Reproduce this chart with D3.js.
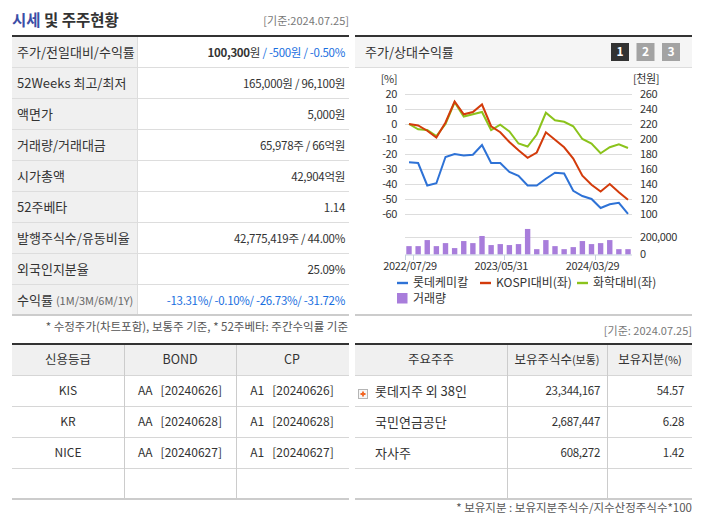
<!DOCTYPE html>
<html>
<head>
<meta charset="utf-8">
<script src="https://cdn.jsdelivr.net/npm/d3@7"></script>
<style>
body { margin: 0; background: #fff; }
svg { display: block; font-family: "Noto Sans CJK KR", "Noto Sans", sans-serif; }
</style>
</head>
<body>
<svg id="page" width="702" height="525"></svg>
<script>
// monthly points, 2022/07 .. 2024/07
var dates = ["2022/07/29","2022/08/31","2022/09/30","2022/10/31","2022/11/30","2022/12/29",
    "2023/01/31","2023/02/28","2023/03/31","2023/04/28","2023/05/31","2023/06/30","2023/07/31",
    "2023/08/31","2023/09/27","2023/10/31","2023/11/30","2023/12/28","2024/01/31","2024/02/29",
    "2024/03/29","2024/04/30","2024/05/31","2024/06/28","2024/07/25"];
var xLabels = ["2022/07/29","2023/05/31","2024/03/29"];

var price = [169,168,138,141,176,180,178,179,192,168,168,156,151,138,138,147,155,154,131,124,120,108,113,115,100.3];
var kospiRel = [0,-1,-4.5,-9,1,15,6.5,8,13,-1.5,-5.5,-12,-17.5,-22.5,-19,-5.5,-10.5,-15.5,-23,-34.5,-40.5,-45,-40,-45.5,-50.5];
var chemRel = [0,-3.5,-4,-8,0,14.5,5,6.5,8,-4,-0.5,-5,-13,-15,-7,7.5,2.5,1.5,-1.5,-10,-13,-19.5,-15.5,-13.5,-16];
var volume = [94000,94000,162000,94000,128000,72000,151000,128000,208000,106000,117000,106000,117000,
    287000,60000,162000,94000,60000,83000,151000,117000,128000,162000,60000,60000];

var pctTicks = [20,10,0,-10,-20,-30,-40,-50,-60];
var wonTicks = [260,240,220,200,180,160,140,120,100];
var volTicks = [200000,0];

var infoLabels = ["주가/전일대비/수익률","52Weeks 최고/최저","액면가","거래량/거래대금","시가총액",
    "52주베타","발행주식수/유동비율","외국인지분율","수익률"];
var infoNotes = ["","","","","","","","","(1M/3M/6M/1Y)"];
var infoValues = [
    [["100,300","strong"],["원",""],[" / -500원 / -0.50%","neg"]],
    [["165,000원 / 96,100원",""]],
    [["5,000원",""]],
    [["65,978주 / 66억원",""]],
    [["42,904억원",""]],
    [["1.14",""]],
    [["42,775,419주 / 44.00%",""]],
    [["25.09%",""]],
    [["-13.31%/ -0.10%/ -26.73%/ -31.72%","neg"]]
];

var creditHeader = ["신용등급","BOND","CP"];
var creditAgency = ["KIS","KR","NICE"];
var bondGrade = ["AA   [20240626]","AA   [20240628]","AA   [20240627]"];
var cpGrade = ["A1   [20240626]","A1   [20240628]","A1   [20240627]"];

var holderHeader = [["주요주주",""],["보유주식수","(보통)"],["보유지분","(%)"]];
var holderNames = ["롯데지주 외 38인","국민연금공단","자사주"];
var holderShares = ["23,344,167","2,687,447","608,272"];
var holderPct = ["54.57","6.28","1.42"];

var seriesNames = ["롯데케미칼","KOSPI대비(좌)","화학대비(좌)"];
var colors = { price: "#2e72d6", kospi: "#d33b0b", chem: "#8bc31c", vol: "#a87ddb" };

var svg = d3.select("#page");
var textCol = "#333";

// ---------- title ----------
var title = svg.append("text").attr("x", 12).attr("y", 26)
    .style("font-size", "15.5px").style("font-weight", "bold").attr("fill", textCol);
title.append("tspan").attr("fill", "#3b4ea6").text("시세");
title.append("tspan").text(" 및 주주현황");
svg.append("text").attr("x", 349).attr("y", 25).attr("text-anchor", "end")
    .style("font-size", "11px").attr("fill", "#777").text("[기준:2024.07.25]");

// ---------- left info table ----------
var rowH = 31, tTop = 37;
svg.append("rect").attr("x", 12).attr("y", tTop).attr("width", 125).attr("height", rowH * 9).attr("fill", "#f0f0f0");
svg.append("rect").attr("x", 12).attr("y", 35).attr("width", 337).attr("height", 2).attr("fill", "#333");
svg.selectAll(".infoLine").data(d3.range(1, 9)).join("line")
    .attr("x1", 12).attr("x2", 349)
    .attr("y1", function(d) { return tTop + d * rowH - 0.5; })
    .attr("y2", function(d) { return tTop + d * rowH - 0.5; })
    .attr("stroke", "#ddd");
svg.append("line").attr("x1", 137.5).attr("x2", 137.5).attr("y1", tTop).attr("y2", tTop + rowH * 9).attr("stroke", "#ddd");
svg.append("rect").attr("x", 12).attr("y", tTop + rowH * 9 - 2).attr("width", 337).attr("height", 2).attr("fill", "#ccc");

var labelText = svg.selectAll(".infoLabel").data(infoLabels).join("text")
    .attr("x", 17).attr("y", function(d, i) { return tTop + i * rowH + rowH / 2; })
    .attr("dy", "0.35em").style("font-size", "13px").attr("fill", textCol);
labelText.append("tspan").text(function(d) { return d; });
labelText.append("tspan").attr("dx", 3).style("font-size", "11px").attr("fill", "#666")
    .text(function(d, i) { return infoNotes[i]; });

var valText = svg.selectAll(".infoValue").data(infoValues).join("text")
    .attr("x", 345).attr("y", function(d, i) { return tTop + i * rowH + rowH / 2; })
    .attr("dy", "0.35em").attr("text-anchor", "end").style("font-size", "11.5px")
    .style("letter-spacing", "-0.3px").style("white-space", "pre");
valText.selectAll("tspan").data(function(d) { return d; }).join("tspan")
    .text(function(d) { return d[0]; })
    .attr("fill", function(d) { return d[1] === "neg" ? "#1a6fe0" : textCol; })
    .style("font-weight", function(d) { return d[1] === "strong" ? "bold" : "normal"; });

svg.append("text").attr("x", 348).attr("y", 327).attr("dy", "0.35em").attr("text-anchor", "end")
    .style("font-size", "11.5px").attr("fill", "#555")
    .text("* 수정주가(차트포함), 보통주 기준, * 52주베타: 주간수익률 기준");

// ---------- chart panel ----------
svg.append("rect").attr("x", 355).attr("y", 37).attr("width", 337).attr("height", 30).attr("fill", "#f5f5f5");
svg.append("rect").attr("x", 355).attr("y", 35).attr("width", 337).attr("height", 2).attr("fill", "#333");
svg.append("line").attr("x1", 355).attr("x2", 692).attr("y1", 67.5).attr("y2", 67.5).attr("stroke", "#ddd");
svg.append("text").attr("x", 365).attr("y", 52).attr("dy", "0.35em").style("font-size", "13px")
    .attr("fill", textCol).text("주가/상대수익률");
var tabs = svg.selectAll(".tab").data(["1","2","3"]).join("g")
    .attr("transform", function(d, i) { return "translate(" + (611 + i * 25.5) + ",43)"; });
tabs.append("rect").attr("width", 18).attr("height", 18)
    .attr("fill", function(d, i) { return i === 0 ? "#333" : "#a3a3a3"; });
tabs.append("text").attr("x", 9).attr("y", 9).attr("dy", "0.36em").attr("text-anchor", "middle")
    .style("font-size", "12px").style("font-weight", "bold").attr("fill", "#fff").text(function(d) { return d; });

var idx = d3.range(dates.length);
var x = d3.scalePoint().domain(idx).range([409, 628]);
var step = x.step();
var yL = d3.scaleLinear().domain([-60, 20]).range([214, 94]);
var yR = d3.scaleLinear().domain([100, 260]).range([214, 94]);
var yV = d3.scaleLinear().domain([0, 200000]).range([254.5, 236.7]);

function tickText(sel) {
    sel.style("font-size", "11px").style("letter-spacing", "-0.4px").attr("fill", textCol);
}

svg.selectAll(".grid").data(pctTicks).join("line")
    .attr("x1", 405).attr("x2", 632)
    .attr("y1", function(d) { return Math.round(yL(d)) + 0.5; })
    .attr("y2", function(d) { return Math.round(yL(d)) + 0.5; })
    .attr("stroke", "#ddd");
svg.selectAll(".pctLbl").data(pctTicks).join("text")
    .attr("x", 397).attr("y", function(d) { return yL(d); }).attr("dy", "0.35em")
    .attr("text-anchor", "end").call(tickText).text(function(d) { return d; });
svg.selectAll(".wonLbl").data(wonTicks).join("text")
    .attr("x", 640).attr("y", function(d) { return yR(d); }).attr("dy", "0.35em")
    .call(tickText).text(function(d) { return d; });
svg.append("text").attr("x", 397).attr("y", 79).attr("dy", "0.35em").attr("text-anchor", "end")
    .call(tickText).text("[%]");
svg.append("text").attr("x", 633).attr("y", 79).attr("dy", "0.35em")
    .call(tickText).text("[천원]");

// volume
svg.append("line").attr("x1", 405).attr("x2", 632).attr("y1", Math.round(yV(200000)) + 0.5).attr("y2", Math.round(yV(200000)) + 0.5)
    .attr("stroke", "#ddd");
svg.selectAll(".bar").data(volume).join("rect")
    .attr("x", function(d, i) { return x(i) - 2.7; }).attr("width", 5.4)
    .attr("y", function(d) { return yV(d); }).attr("height", function(d) { return yV(0) - yV(d); })
    .attr("fill", colors.vol);
svg.selectAll(".volLbl").data(volTicks).join("text")
    .attr("x", 640).attr("y", function(d) { return yV(d); }).attr("dy", "0.35em")
    .call(tickText).text(function(d) { return d3.format(",")(d); });
svg.append("line").attr("x1", 405).attr("x2", 632).attr("y1", 255).attr("y2", 255).attr("stroke", "#c4d0dc");
var tickIdx = xLabels.map(function(l) { return dates.indexOf(l); });
svg.selectAll(".xTick").data([-1].concat(tickIdx)).join("line")
    .attr("x1", function(d) { return d < 0 ? 405.5 : Math.round(x(d) + step / 2) - 0.5; })
    .attr("x2", function(d) { return d < 0 ? 405.5 : Math.round(x(d) + step / 2) - 0.5; })
    .attr("y1", 255).attr("y2", 260).attr("stroke", "#c4d0dc");
svg.selectAll(".xLbl").data(tickIdx).join("text")
    .attr("x", function(d) { return x(d) + 1; }).attr("y", 266).attr("dy", "0.35em")
    .attr("text-anchor", "middle").call(tickText)
    .text(function(d) { return dates[d]; });

// lines
var lineL = d3.line().x(function(d, i) { return x(i); }).y(function(d) { return yL(d); });
var lineR = d3.line().x(function(d, i) { return x(i); }).y(function(d) { return yR(d); });
svg.append("path").datum(chemRel).attr("d", lineL).attr("fill", "none").attr("stroke", colors.chem).attr("stroke-width", 2);
svg.append("path").datum(kospiRel).attr("d", lineL).attr("fill", "none").attr("stroke", colors.kospi).attr("stroke-width", 2);
svg.append("path").datum(price).attr("d", lineR).attr("fill", "none").attr("stroke", colors.price).attr("stroke-width", 2);

// legend
var legX = [397, 480, 577];
var legCol = [colors.price, colors.kospi, colors.chem];
var leg = svg.selectAll(".leg").data(seriesNames).join("g")
    .attr("transform", function(d, i) { return "translate(" + legX[i] + ",283)"; });
leg.append("rect").attr("x", 0).attr("y", -1.2).attr("width", 11).attr("height", 2.4)
    .attr("fill", function(d, i) { return legCol[i]; });
leg.append("text").attr("x", 16).attr("dy", "0.35em").style("font-size", "12px").attr("fill", textCol)
    .text(function(d) { return d; });
svg.append("rect").attr("x", 397).attr("y", 293).attr("width", 10.5).attr("height", 10.5).attr("fill", colors.vol);
svg.append("text").attr("x", 413).attr("y", 298.5).attr("dy", "0.35em").style("font-size", "12px")
    .attr("fill", textCol).text("거래량");
svg.append("rect").attr("x", 355).attr("y", 314).attr("width", 337).attr("height", 2).attr("fill", "#ccc");

// ---------- lower tables ----------
var bTop = 345, bRowH = 31;
function tableFrame(x0, x1, cols) {
    svg.append("rect").attr("x", x0).attr("y", bTop).attr("width", x1 - x0).attr("height", 30).attr("fill", "#f0f0f0");
    svg.append("rect").attr("x", x0).attr("y", bTop - 2).attr("width", x1 - x0).attr("height", 2).attr("fill", "#333");
    [1, 2, 3, 4].forEach(function(r) {
        var yy = bTop + 30 + (r - 1) * bRowH + 0.5;
        svg.append("line").attr("x1", x0).attr("x2", x1).attr("y1", yy).attr("y2", yy).attr("stroke", "#d6d6d6");
    });
    svg.append("rect").attr("x", x0).attr("y", 498).attr("width", x1 - x0).attr("height", 2).attr("fill", "#ccc");
    cols.forEach(function(c) {
        svg.append("line").attr("x1", c + 0.5).attr("x2", c + 0.5).attr("y1", bTop).attr("y2", 498).attr("stroke", "#ccc");
    });
}
tableFrame(12, 349, [124, 236]);
tableFrame(355, 692, [507, 607]);

var credCx = [68, 180, 292];
svg.selectAll(".credH").data(creditHeader).join("text")
    .attr("x", function(d, i) { return credCx[i]; }).attr("y", 360).attr("dy", "0.35em")
    .attr("text-anchor", "middle").style("font-size", "12.5px").attr("fill", textCol).text(function(d) { return d; });
var credCols = [creditAgency, bondGrade, cpGrade];
credCols.forEach(function(col, c) {
    svg.selectAll(".cred" + c).data(col).join("text")
        .attr("x", credCx[c]).attr("y", function(d, i) { return 391 + i * bRowH; }).attr("dy", "0.35em")
        .attr("text-anchor", "middle").style("font-size", "12px").style("white-space", "pre")
        .attr("fill", textCol).text(function(d) { return d; });
});

var holdCx = [431, 557, 650];
var hh = svg.selectAll(".holdH").data(holderHeader).join("text")
    .attr("x", function(d, i) { return holdCx[i]; }).attr("y", 360).attr("dy", "0.35em")
    .attr("text-anchor", "middle").style("font-size", "12.5px").attr("fill", textCol);
hh.append("tspan").text(function(d) { return d[0]; });
hh.append("tspan").style("font-size", "11px").text(function(d) { return d[1]; });

// expand icon next to the largest holder
svg.append("rect").attr("x", 358.5).attr("y", 389.5).attr("width", 9).attr("height", 9)
    .attr("fill", "#f6f6f6").attr("stroke", "#b5b5b5");
svg.append("path").attr("d", "M360.5,394h5M363,391.5v5").attr("stroke", "#f26522").attr("stroke-width", 1.8);
svg.selectAll(".holdN").data(holderNames).join("text")
    .attr("x", 375).attr("y", function(d, i) { return 391 + i * bRowH; }).attr("dy", "0.35em")
    .style("font-size", "13px").attr("fill", textCol).text(function(d) { return d; });
svg.selectAll(".holdS").data(holderShares).join("text")
    .attr("x", 600).attr("y", function(d, i) { return 391 + i * bRowH; }).attr("dy", "0.35em")
    .attr("text-anchor", "end").style("font-size", "11.5px").style("letter-spacing", "-0.3px")
    .attr("fill", textCol).text(function(d) { return d; });
svg.selectAll(".holdP").data(holderPct).join("text")
    .attr("x", 684).attr("y", function(d, i) { return 391 + i * bRowH; }).attr("dy", "0.35em")
    .attr("text-anchor", "end").style("font-size", "11.5px").style("letter-spacing", "-0.3px")
    .attr("fill", textCol).text(function(d) { return d; });

svg.append("text").attr("x", 692).attr("y", 331).attr("dy", "0.35em").attr("text-anchor", "end")
    .style("font-size", "11px").attr("fill", "#777").text("[기준: 2024.07.25]");
svg.append("text").attr("x", 692).attr("y", 508).attr("dy", "0.35em").attr("text-anchor", "end")
    .style("font-size", "11.5px").attr("fill", "#555").text("* 보유지분 : 보유지분주식수/지수산정주식수*100");
</script>
</body>
</html>
